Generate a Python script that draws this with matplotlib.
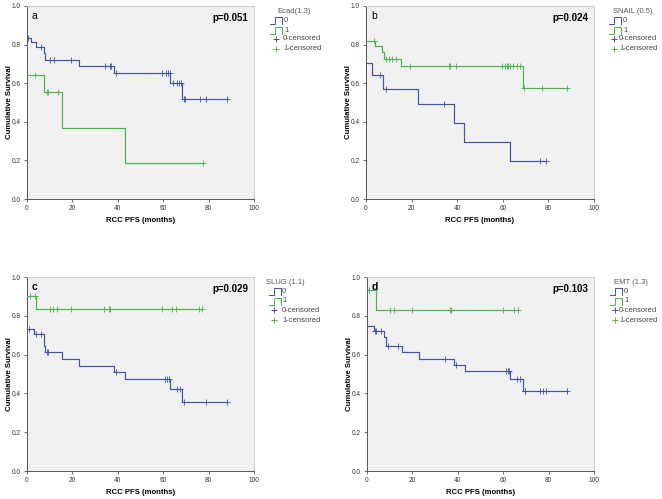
import numpy as np
import matplotlib
matplotlib.use("Agg")
import matplotlib.pyplot as plt
from matplotlib.lines import Line2D

plt.rcParams['font.family'] = ['Liberation Sans', 'DejaVu Sans']

BLUE = '#4152a6'
GREEN = '#48b44a'

# ---------------- data ----------------
x_ticks = [0, 20, 40, 60, 80, 100]
y_ticks = [0.0, 0.2, 0.4, 0.6, 0.8, 1.0]
y_tick_labels = ['0.0', '0.2', '0.4', '0.6', '0.8', '1.0']

panel_letters = ['a', 'b', 'c', 'd']
p_values = ['p=0.051', 'p=0.024', 'p=0.029', 'p=0.103']
legend_titles = ['Ecad(1.3)', 'SNAIL (0.5)', 'SLUG (1.1)', 'EMT (1.3)']
legend_labels = ['0', '1', '0-censored', '1-censored']

# panel a (Ecad)
a0_start = 0.835
a0_times = [1.9, 4.0, 7.3, 7.8, 23.0, 38.5, 63.0, 68.5]
a0_surv = [0.812, 0.785, 0.755, 0.72, 0.69, 0.655, 0.602, 0.516]
a0_cens = [0.5, 6.3, 10.0, 11.7, 19.5, 34.3, 36.6, 37.0, 39.2, 59.6, 61.2, 62.0, 62.8,
           64.4, 66.0, 67.0, 67.8, 69.3, 69.7, 76.1, 78.8, 88.0]
a1_start = 0.642
a1_times = [7.3, 15.4, 43.3]
a1_surv = [0.552, 0.367, 0.184]
a1_cens = [3.5, 8.8, 9.2, 13.6, 77.5]

# panel b (SNAIL)
b0_start = 0.706
b0_times = [2.5, 7.6, 23.0, 38.4, 43.1, 63.2]
b0_surv = [0.640, 0.571, 0.490, 0.392, 0.294, 0.196]
b0_cens = [6.3, 8.8, 34.0, 76.1, 79.0]
b1_start = 0.821
b1_times = [4.0, 7.2, 7.9, 15.2, 68.8]
b1_surv = [0.792, 0.760, 0.727, 0.690, 0.575]
b1_cens = [3.5, 8.8, 10.1, 11.4, 13.2, 19.4, 36.5, 36.8, 39.4, 59.7, 61.0, 61.7, 62.3,
           63.2, 64.4, 66.1, 67.7, 69.5, 77.1, 88.0]

# panel c (SLUG)
c0_start = 0.733
c0_times = [3.0, 7.3, 7.8, 15.5, 23.0, 38.4, 43.0, 63.0, 68.5]
c0_surv = [0.704, 0.645, 0.614, 0.578, 0.543, 0.511, 0.473, 0.425, 0.354]
c0_cens = [1.0, 4.0, 6.3, 8.8, 9.2, 39.2, 61.0, 61.8, 62.7, 65.9, 67.5, 69.3, 78.8, 88.0]
c1_start = 0.904
c1_times = [4.1]
c1_surv = [0.833]
c1_cens = [1.2, 3.5, 10.0, 11.3, 13.3, 19.3, 34.1, 36.3, 36.7, 59.6, 64.0, 65.7, 75.8, 77.0]

# panel d (EMT)
d0_start = 0.745
d0_times = [3.1, 7.5, 8.2, 15.4, 22.9, 38.3, 43.3, 63.1, 68.9]
d0_surv = [0.724, 0.690, 0.642, 0.611, 0.579, 0.547, 0.515, 0.472, 0.412]
d0_cens = [3.7, 4.1, 6.3, 9.3, 13.5, 34.5, 39.4, 61.2, 62.0, 62.7, 66.0, 67.5, 69.5,
           69.8, 76.2, 77.7, 79.0, 88.0]
d1_start = 0.931
d1_times = [4.1]
d1_surv = [0.828]
d1_cens = [0.7, 10.1, 11.7, 19.7, 36.7, 37.0, 60.0, 64.8, 66.5]

panels = [
    ((a0_start, a0_times, a0_surv, a0_cens), (a1_start, a1_times, a1_surv, a1_cens)),
    ((b0_start, b0_times, b0_surv, b0_cens), (b1_start, b1_times, b1_surv, b1_cens)),
    ((c0_start, c0_times, c0_surv, c0_cens), (c1_start, c1_times, c1_surv, c1_cens)),
    ((d0_start, d0_times, d0_surv, d0_cens), (d1_start, d1_times, d1_surv, d1_cens)),
]

# ---------------- figure ----------------
W, H = 662, 499
fig = plt.figure(figsize=(W / 100, H / 100), dpi=100)
fig.patch.set_facecolor('white')

# axes boxes in pixels: (left, top, right, bottom)
boxes = [(27, 6, 254, 199), (366, 6, 594, 199), (27, 277, 254, 471), (367, 277, 594, 471)]
# legend layout in pixels: (icon_left, label_x, plus_x, cens_label_x, title_center_x)
legend_px = [(270, 284, 276, 283, 294), (609, 623, 614, 619, 633),
             (269, 282, 274, 282, 285), (610, 624, 615, 619, 631)]
legend_dy = [5.5, 14.5, 24, 33, 43]  # title, 0, 1, 0-censored, 1-censored (px below axes top)


def km(ax, start, times, survs, cens, color):
    t = [0.0] + list(times)
    s = [start] + list(survs)
    end = max(list(cens) + list(times))
    t.append(end)
    s.append(s[-1])
    ax.step(t, s, where='post', color=color, lw=0.85, zorder=3)
    allsurv = [start] + list(survs)
    vals = [allsurv[np.searchsorted(times, c, side='right')] for c in cens]
    ax.plot(cens, vals, '+', ms=4, mew=0.6, color=color, zorder=4, linestyle='none')


def fx(px):
    return px / W


def fy(py):
    return 1 - py / H


for i, (box, series) in enumerate(zip(boxes, panels)):
    l, t, r, b = box
    ax = fig.add_axes([l / W, (H - b) / H, (r - l) / W, (b - t) / H])
    ax.set_facecolor('#f0f0f0')
    km(ax, *series[0], BLUE)
    km(ax, *series[1], GREEN)
    ax.set_xlim(0, 100)
    ax.set_ylim(0, 1.0)
    ax.set_xticks(x_ticks)
    ax.set_yticks(y_ticks)
    ax.set_yticklabels(y_tick_labels)
    ax.tick_params(labelsize=4.7, length=2, width=0.5, pad=2.5, colors='#333333')
    for sp in ['left', 'bottom']:
        ax.spines[sp].set_color('#555555')
        ax.spines[sp].set_linewidth(0.7)
    for sp in ['top', 'right']:
        ax.spines[sp].set_color('#c8c8c8')
        ax.spines[sp].set_linewidth(0.6)
    ax.set_xlabel('RCC PFS (months)', fontsize=5.6, fontweight='bold')
    ax.set_ylabel('Cumulative Survival', fontsize=5.6, fontweight='bold')
    pw, ph = r - l, b - t
    ax.xaxis.set_label_coords(0.5, -18.5 / ph)
    ax.yaxis.set_label_coords(-14 / pw, 0.5)
    ax.text(0.022, 0.95, panel_letters[i], transform=ax.transAxes, fontsize=7.5,
            ha='left', va='center', fontweight='bold' if i >= 2 else 'normal')
    ax.text(0.974, 0.936, p_values[i], transform=ax.transAxes, fontsize=7,
            fontweight='bold', ha='right', va='center')

    # legend (outside, to the right), in figure coordinates
    il, lx, plx, clx, tcx = legend_px[i]
    tf = fig.transFigure
    fig.text(fx(tcx), fy(t + legend_dy[0]), legend_titles[i], fontsize=5.5,
             color='#555555', ha='center', va='center')
    cols = [BLUE, GREEN, BLUE, GREEN]
    for k in range(4):
        yc = t + legend_dy[k + 1]
        if k < 2:
            x0, x1 = il, il + 12
            lo, hi = yc + 3.5, yc - 3.5
            xs = [x0, x0 + 5, x0 + 5, x1, x1]
            yy = [lo, lo, hi, hi, lo]
            fig.add_artist(Line2D([fx(v) for v in xs], [fy(v) for v in yy], transform=tf,
                                  color=cols[k], lw=0.7))
            tx = lx
        else:
            fig.add_artist(Line2D([fx(plx)], [fy(yc)], transform=tf, color=cols[k],
                                  marker='+', ms=5, mew=0.7, linestyle='none'))
            tx = clx
        fig.text(fx(tx), fy(yc), legend_labels[k], fontsize=5.5, color='#444444',
                 ha='left', va='center')

fig.savefig('out.png', dpi=100)
